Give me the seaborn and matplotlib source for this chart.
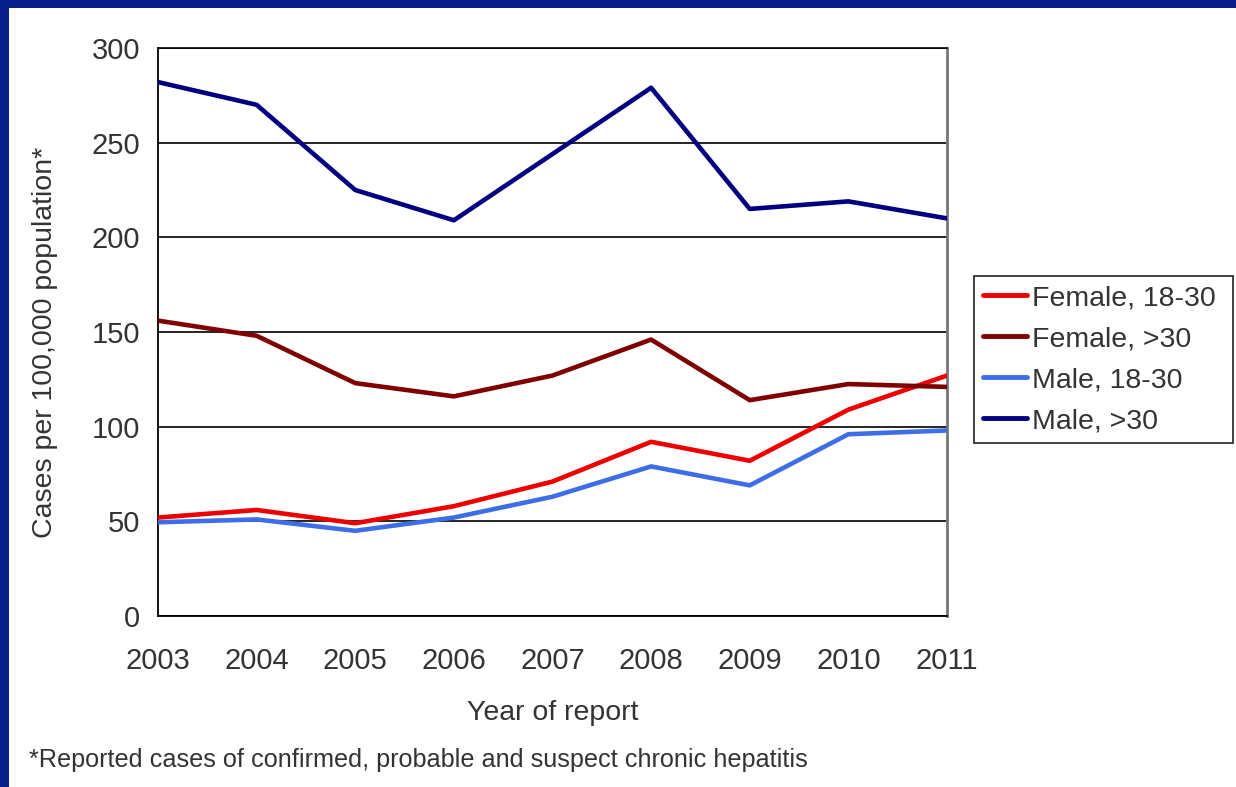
import matplotlib
matplotlib.use("Agg")
import matplotlib.pyplot as plt
from matplotlib.patches import Rectangle
import pandas as pd
import seaborn as sns

years = [2003, 2004, 2005, 2006, 2007, 2008, 2009, 2010, 2011]
female_18_30 = [52, 56, 49, 58, 71, 92, 82, 109, 127]
female_over_30 = [156, 148, 123, 116, 127, 146, 114, 122.5, 121]
male_18_30 = [49.5, 51, 45, 52, 63, 79, 69, 96, 98]
male_over_30 = [282, 270, 225, 209, 244, 279, 215, 219, 210]

series_names = ["Female, 18-30", "Female, >30", "Male, 18-30", "Male, >30"]
series_colors = ["#ee0000", "#800000", "#3d6ee8", "#000080"]
y_ticks = [0, 50, 100, 150, 200, 250, 300]

df = pd.DataFrame({
    "year": years * 4,
    "rate": female_18_30 + female_over_30 + male_18_30 + male_over_30,
    "group": sum([[n] * len(years) for n in series_names], []),
})

sns.set_style("white")
plt.rcParams["font.family"] = ["Liberation Sans", "DejaVu Sans"]

W, H = 1236, 787
fig = plt.figure(figsize=(W / 100, H / 100), dpi=100, facecolor="#0a1e8c")
# white slide panel behind everything
fig.patches.append(Rectangle((9 / W, 0), 1, 1 - 8 / H, transform=fig.transFigure,
                             facecolor="white", edgecolor="none", zorder=-10))

ax = fig.add_axes([158 / W, 1 - 616 / H, (947 - 158) / W, (616 - 48) / H])
ax.set_zorder(2)
ax.set_facecolor("white")

sns.lineplot(data=df, x="year", y="rate", hue="group", hue_order=series_names,
             palette=dict(zip(series_names, series_colors)), linewidth=3.3,
             ax=ax, legend=False, zorder=3)

ax.set_xlim(years[0], years[-1])
ax.set_ylim(y_ticks[0], y_ticks[-1])
ax.set_xticks(years)
ax.set_yticks(y_ticks)
ax.tick_params(axis="both", labelsize=21, labelcolor="#333333", color="black",
               length=7, width=1.3, direction="out")
ax.tick_params(axis="x", pad=15)
ax.tick_params(axis="y", pad=6)
ax.grid(axis="y", color="black", linewidth=1.2, zorder=1)
ax.set_axisbelow(True)

for side in ["left", "bottom"]:
    ax.spines[side].set_visible(True)
    ax.spines[side].set_color("black")
    ax.spines[side].set_linewidth(1.3)
ax.spines["right"].set_visible(True)
ax.spines["right"].set_color("#777777")
ax.spines["right"].set_linewidth(2)
ax.spines["top"].set_visible(True)
ax.spines["top"].set_color("black")
ax.spines["top"].set_linewidth(1.2)

ax.set_xlabel("Year of report", fontsize=20.5, color="#333333", labelpad=18)
ax.set_ylabel("Cases per 100,000 population*", fontsize=20.5, color="#333333")
ax.yaxis.set_label_coords(-0.127, 0.482)

handles = [plt.Line2D([], [], color=c, linewidth=3.5) for c in series_colors]
leg = fig.legend(handles, series_names, loc="upper left", mode="expand",
                 bbox_to_anchor=(974 / W, 1 - 440 / H, (1233 - 974) / W, 164 / H),
                 fontsize=20.5, frameon=True, fancybox=False, handlelength=1.55,
                 handletextpad=0.15, borderpad=0.32, labelspacing=0.53, borderaxespad=0)
leg.get_frame().set_edgecolor("black")
leg.get_frame().set_linewidth(1.3)
for t in leg.get_texts():
    t.set_color("#333333")

fig.text(29 / W, 1 - 760 / H, "*Reported cases of confirmed, probable and suspect chronic hepatitis",
         fontsize=18.2, color="#333333", va="center", ha="left")

fig.savefig("out.png", dpi=100, facecolor=fig.get_facecolor())
